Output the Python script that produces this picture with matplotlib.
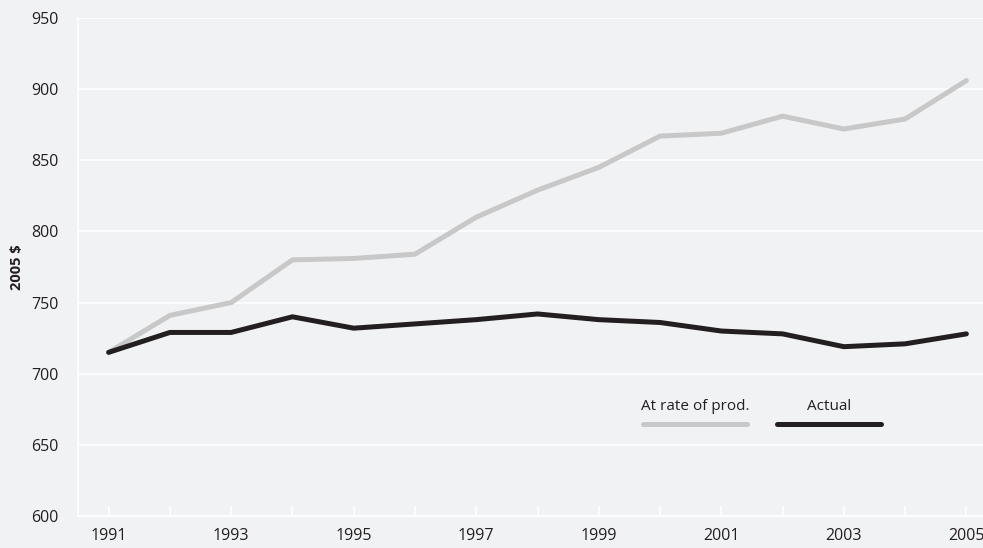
import numpy as np
import matplotlib.pyplot as plt

years = list(range(1991, 2006))
at_rate_of_prod = [715, 741, 750, 780, 781, 784, 810, 829, 845, 867, 869, 881, 872, 879, 906]
actual = [715, 729, 729, 740, 732, 735, 738, 742, 738, 736, 730, 728, 719, 721, 728]

y_ticks = [600, 650, 700, 750, 800, 850, 900, 950]
x_ticks = list(range(1991, 2006, 2))

bg = '#f1f2f4'
gray = '#c8c8c8'
dark = '#231f20'

plt.rcParams['font.family'] = ['Open Sans', 'DejaVu Sans']

fig = plt.figure(figsize=(9.83, 5.48), dpi=100, facecolor=bg)
ax = fig.add_axes([78 / 983, 1 - 516 / 548, (997 - 78) / 983, (516 - 18) / 548])
ax.set_facecolor(bg)

ax.plot(years, at_rate_of_prod, color=gray, lw=3.6, solid_capstyle='round', solid_joinstyle='miter', zorder=3)
ax.plot(years, actual, color=dark, lw=3.6, solid_capstyle='round', solid_joinstyle='miter', zorder=4)

ax.set_xlim(1990.5, 2005.5)
ax.set_ylim(600, 950)
ax.set_yticks(y_ticks)
ax.set_xticks(years, minor=False)
ax.set_xticklabels([str(y) if y in x_ticks else '' for y in years])
ax.grid(axis='y', color='white', lw=1.2)
ax.set_axisbelow(True)
for side in ['top', 'right']:
    ax.spines[side].set_visible(False)
for side in ['left', 'bottom']:
    ax.spines[side].set_color('white')
    ax.spines[side].set_linewidth(1.2)
ax.tick_params(axis='x', direction='in', length=7, color='white', width=1.2, labelsize=11.5, pad=9, labelcolor=dark)
ax.tick_params(axis='y', length=0, labelsize=11.5, pad=14, labelcolor=dark)
ax.set_ylabel('2005 $', fontsize=10.5, fontweight='bold', color=dark)
ax.yaxis.set_label_coords(-(78 - 24) / (997 - 78), 0.5)

# legend drawn by hand: labels above the line keys
def ax_frac(px, py):
    x0, y0 = 78, 516
    return (px - x0) / (997 - x0), (y0 - py) / (516 - 18)

for (x1, x2), label, col in [((643, 747), 'At rate of prod.', gray), ((777, 881), 'Actual', dark)]:
    a = ax_frac(x1, 424)
    b = ax_frac(x2, 424)
    ax.plot([a[0], b[0]], [a[1], b[1]], color=col, lw=3.6, solid_capstyle='round', transform=ax.transAxes, clip_on=False)
    t = ax_frac((x1 + x2) / 2, 407)
    ax.text(t[0], t[1], label, transform=ax.transAxes, ha='center', va='center', fontsize=11, color=dark)

fig.savefig('out.png', dpi=100, facecolor=bg)
